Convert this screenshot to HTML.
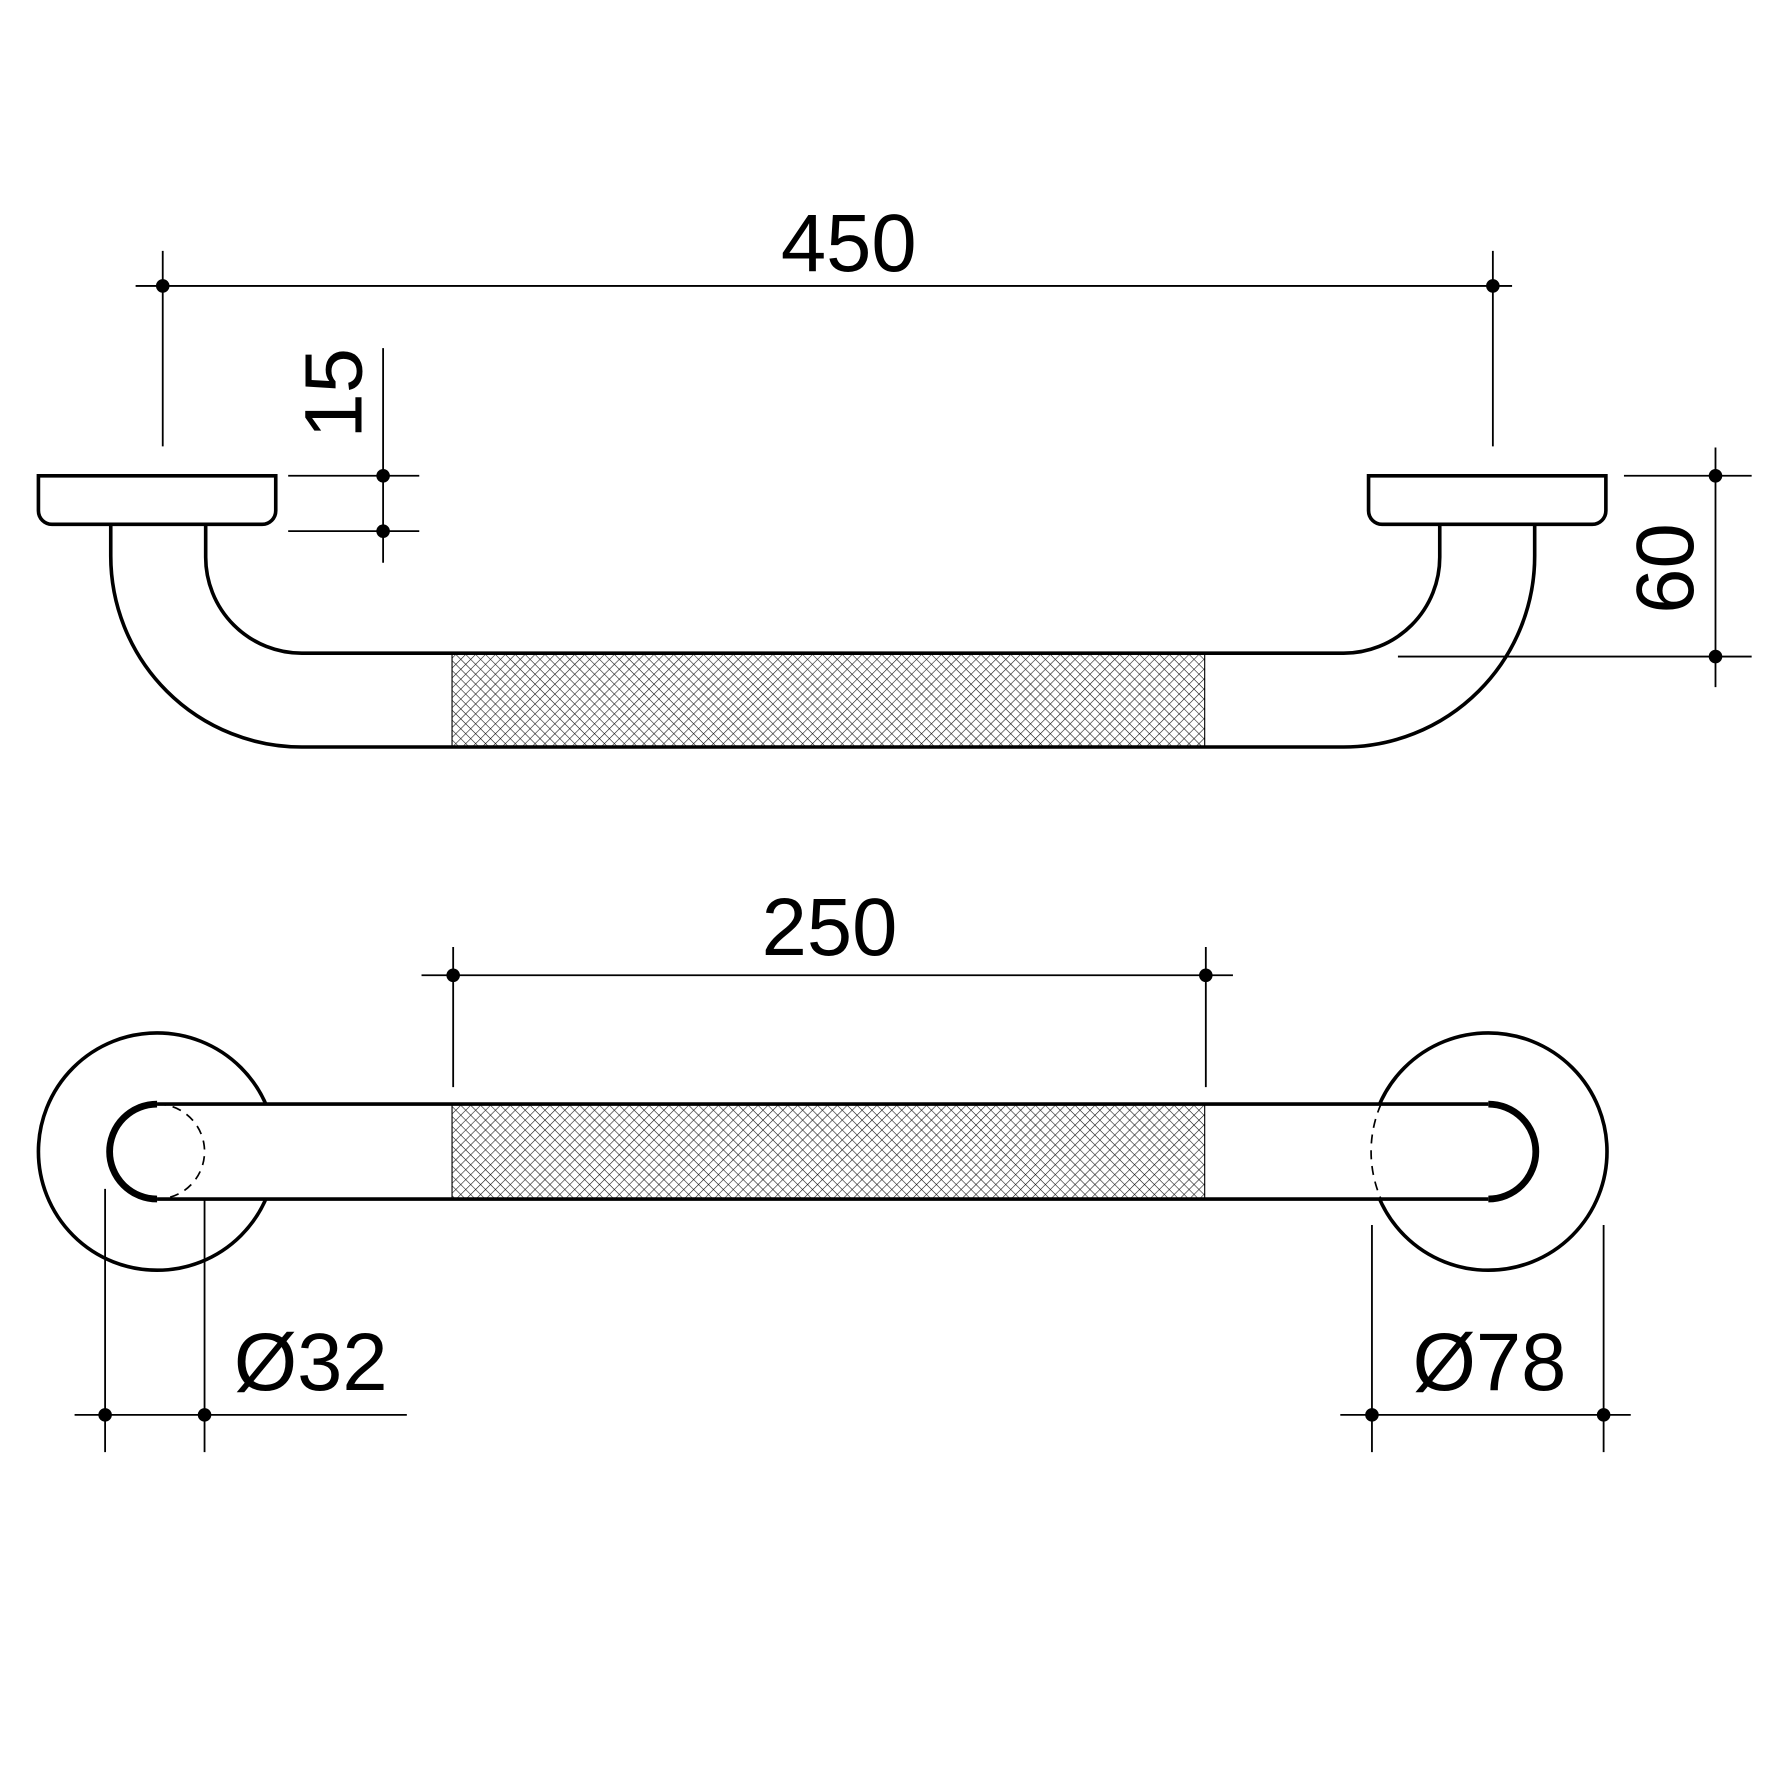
<!DOCTYPE html>
<html><head><meta charset="utf-8"><style>html,body{margin:0;padding:0;background:#fff}svg{display:block}</style></head>
<body>
<svg width="1772" height="1772" viewBox="0 0 1568 1568" xmlns="http://www.w3.org/2000/svg">
<defs>
<pattern id="h" width="6.2" height="6.2" patternUnits="userSpaceOnUse" patternTransform="rotate(45)">
<line x1="0" y1="0" x2="0" y2="6.2" stroke="#111" stroke-width="1"/>
<line x1="0" y1="0" x2="6.2" y2="0" stroke="#111" stroke-width="1"/>
</pattern>
</defs>
<g font-family="Liberation Sans, sans-serif" font-size="72" fill="#000">
<text x="751" y="240" text-anchor="middle">450</text>
<text x="734" y="845" text-anchor="middle">250</text>
<text x="275" y="1230" text-anchor="middle">Ø32</text>
<text x="1318" y="1230" text-anchor="middle">Ø78</text>
<text transform="translate(320,348) rotate(-90)" text-anchor="middle">15</text>
<text transform="translate(1498,503) rotate(-90)" text-anchor="middle">60</text>
</g>
<g stroke="#000" stroke-width="1.6" fill="none">
<line x1="120" y1="253" x2="1338" y2="253"/>
<line x1="144" y1="222" x2="144" y2="395"/>
<line x1="1321" y1="222" x2="1321" y2="395"/>
<line x1="339" y1="308" x2="339" y2="498"/>
<line x1="255" y1="421" x2="371" y2="421"/>
<line x1="255" y1="470" x2="371" y2="470"/>
<line x1="1518" y1="396" x2="1518" y2="608"/>
<line x1="1437" y1="421" x2="1550" y2="421"/>
<line x1="1237" y1="581" x2="1550" y2="581"/>
<line x1="373" y1="863" x2="1091" y2="863"/>
<line x1="401" y1="838" x2="401" y2="962"/>
<line x1="1067" y1="838" x2="1067" y2="962"/>
<line x1="93" y1="1052" x2="93" y2="1285"/>
<line x1="181" y1="1052" x2="181" y2="1285"/>
<line x1="66" y1="1252" x2="360" y2="1252"/>
<line x1="1214" y1="1084" x2="1214" y2="1285"/>
<line x1="1419" y1="1084" x2="1419" y2="1285"/>
<line x1="1186" y1="1252" x2="1443" y2="1252"/>
</g>
<g fill="#000">
<circle cx="144" cy="253" r="6"/><circle cx="1321" cy="253" r="6"/>
<circle cx="339" cy="421" r="6"/><circle cx="339" cy="470" r="6"/>
<circle cx="1518" cy="421" r="6"/><circle cx="1518" cy="581" r="6"/>
<circle cx="401" cy="863" r="6"/><circle cx="1067" cy="863" r="6"/>
<circle cx="93" cy="1252" r="6"/><circle cx="181" cy="1252" r="6"/>
<circle cx="1214" cy="1252" r="6"/><circle cx="1419" cy="1252" r="6"/>
</g>
<!-- top view -->
<rect x="400" y="578" width="666" height="83" fill="url(#h)"/>
<g stroke="#000" stroke-width="3.2" fill="none">
<path d="M34 421 H244 V452 A12 12 0 0 1 232 464 H46 A12 12 0 0 1 34 452 Z"/>
<path d="M1211 421 H1421 V452 A12 12 0 0 1 1409 464 H1223 A12 12 0 0 1 1211 452 Z"/>
<path d="M98 464 V492 A169 169 0 0 0 267 661 H1189 A169 169 0 0 0 1358 492 V464"/>
<path d="M182 464 V493 A85 85 0 0 0 267 578 H1189 A85 85 0 0 0 1274 493 V464"/>
<line x1="400" y1="578" x2="400" y2="661" stroke-width="1"/>
<line x1="1066" y1="578" x2="1066" y2="661" stroke-width="1"/>
</g>
<!-- bottom view -->
<g stroke="#000" stroke-width="3.2" fill="none">
<circle cx="139" cy="1019" r="105"/>
<circle cx="1317" cy="1019" r="105"/>
</g>
<rect x="139" y="977" width="1178" height="84" fill="#fff"/>
<rect x="400" y="977" width="666" height="84" fill="url(#h)"/>
<g stroke="#000" fill="none">
<line x1="139" y1="977" x2="1317" y2="977" stroke-width="3.2"/>
<line x1="139" y1="1061" x2="1317" y2="1061" stroke-width="3.2"/>
<line x1="400" y1="977" x2="400" y2="1061" stroke-width="1"/>
<line x1="1066" y1="977" x2="1066" y2="1061" stroke-width="1"/>
<path d="M139 977 A42 42 0 0 0 139 1061" stroke-width="6"/>
<path d="M139 977 A42 42 0 0 1 139 1061" stroke-width="1.5" stroke-dasharray="8 6"/>
<path d="M1317 977 A42 42 0 0 1 1317 1061" stroke-width="6"/>
<path d="M1222 977 A105 105 0 0 0 1222 1061" stroke-width="1.5" stroke-dasharray="8 6"/>
</g>
</svg>
</body></html>
